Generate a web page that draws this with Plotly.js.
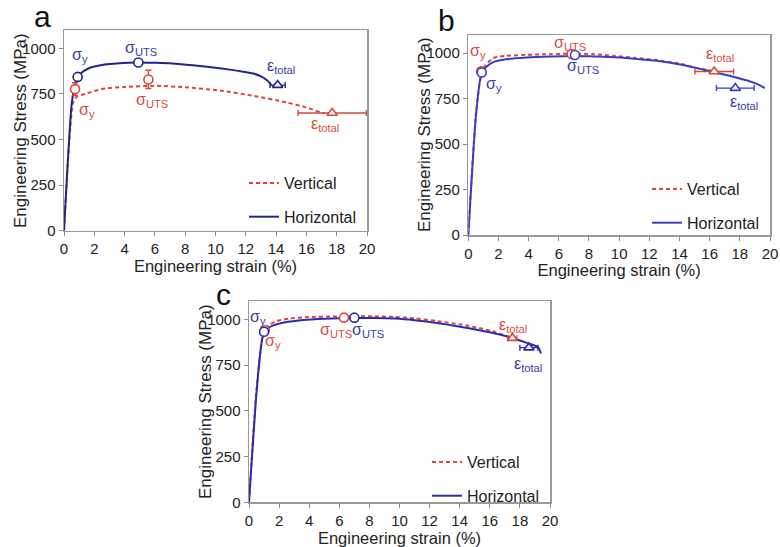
<!DOCTYPE html>
<html>
<head>
<meta charset="utf-8">
<script src="https://cdn.plot.ly/plotly-3.0.1.min.js"></script>
<style>html,body{margin:0;padding:0;background:#fff;}#chart{width:780px;height:547px;}</style>
</head>
<body>
<div id="chart"></div>
<script>
// ---------- Panel a ----------
const aHorizX = [0, 0.5, 0.7, 0.9, 1.1, 1.6, 2.0, 2.7, 3.5, 4.9, 6.0, 7.1, 8.5, 10.4, 11.5, 12.5, 13.0, 13.4, 13.7];
const aHorizY = [0, 690, 790, 843, 862, 889, 900, 911, 917, 922, 920, 917, 907, 889, 876, 862, 846, 825, 798];
const aVertX = [0, 0.6, 0.84, 1.2, 2.0, 2.7, 4.0, 6.0, 8.0, 10.4, 12.5, 14.7, 16.0, 16.9, 17.2];
const aVertY = [0, 700, 734, 745, 765, 780, 788, 794, 786, 767, 739, 703, 675, 650, 643];
// markers: [sigma_y, sigma_UTS, eps_total]
const aHorizMarkX = [0.9, 4.91, 14.1];
const aHorizMarkY = [843, 922, 798];
const aHorizErrX = [0, 0, 0.5];
const aHorizErrY = [0, 0, 0];
const aVertMarkX = [0.73, 5.57, 17.7];
const aVertMarkY = [776, 829, 645];
const aVertErrX = [0, 0, 2.25];
const aVertErrY = [35, 50, 0];

// ---------- Panel b ----------
const bHorizX = [0, 0.5, 0.8, 0.95, 1.2, 1.66, 2.5, 3.87, 5.5, 7.0, 8.3, 9.72, 11.0, 12.5, 14.14, 15.3, 16.35, 17.5, 18.55, 19.2, 19.66];
const bHorizY = [0, 650, 860, 894, 925, 951, 966, 976, 982, 985, 982, 978, 970, 958, 936, 915, 894, 872, 848, 828, 808];
const bVertX = [0, 0.5, 0.85, 1.1, 1.66, 2.5, 3.87, 5.5, 7.0, 8.3, 9.72, 11.0, 12.5, 14.14, 15.0, 15.8, 16.35];
const bVertY = [0, 660, 880, 930, 973, 985, 991, 995, 997, 995, 985, 975, 962, 940, 921, 908, 899];
const bHorizMarkX = [0.89, 7.07, 17.7];
const bHorizMarkY = [894, 990, 808];
const bHorizErrX = [0, 0, 1.25];
const bHorizErrY = [0, 0, 0];
const bVertMarkX = [0.85, 6.85, 16.3];
const bVertMarkY = [900, 995, 899];
const bVertErrX = [0, 0, 1.28];
const bVertErrY = [0, 0, 0];

// ---------- Panel c ----------
const cHorizX = [0, 0.5, 0.85, 1.0, 1.2, 1.62, 2.5, 3.83, 5.5, 7.0, 8.26, 9.7, 11.0, 12.5, 14.13, 15.3, 16.35, 17.5, 18.5, 19.2, 19.4];
const cHorizY = [0, 600, 880, 931, 950, 967, 985, 998, 1005, 1007, 1007, 1004, 995, 980, 958, 940, 922, 898, 870, 849, 813];
const cVertX = [0, 0.5, 0.9, 1.2, 1.8, 2.72, 4.0, 6.0, 8.26, 9.7, 11.0, 12.5, 14.13, 15.3, 16.35, 17.3];
const cVertY = [0, 620, 900, 960, 990, 1004, 1012, 1016, 1016, 1013, 1005, 990, 971, 952, 931, 903];
const cHorizMarkX = [1.0, 7.0, 18.6];
const cHorizMarkY = [932, 1009, 845];
const cHorizErrX = [0, 0, 0.6];
const cHorizErrY = [0, 0, 0];
const cVertMarkX = [1.05, 6.31, 17.5];
const cVertMarkY = [940, 1009, 897];
const cVertErrX = [0, 0, 0.3];
const cVertErrY = [0, 0, 0];

// labels
const labelTexts = ['σ<sub>y</sub>', 'σ<sub>UTS</sub>', 'ε<sub>total</sub>'];
const markerSymbols = ['circle', 'circle', 'triangle-up'];
const aHorizLblX = [1.05, 5.1, 14.3], aHorizLblY = [962, 998, 898];
const aVertLblX = [1.5, 5.8, 17.2], aVertLblY = [661, 716, 580];
const bHorizLblX = [1.7, 7.6, 18.3], bHorizLblY = [826, 927, 728];
const bVertLblX = [0.66, 6.74, 16.7], bVertLblY = [1009, 1056, 991];
const cHorizLblX = [0.62, 7.9, 18.55], cHorizLblY = [1011, 940, 752];
const cVertLblX = [1.6, 5.8, 17.56], cVertLblY = [876, 940, 967];

const xTicks = [0, 2, 4, 6, 8, 10, 12, 14, 16, 18, 20];
const yTicks = [0, 250, 500, 750, 1000];
const panelLetters = ['a', 'b', 'c'];
const legendNames = ['Vertical', 'Horizontal'];
const xTitle = 'Engineering strain (%)';
const yTitle = 'Engineering Stress (MPa)';

const RED = '#d9463c';
const BLUE_A = '#22238c';
const BLUE_B = '#3b3cc4';
const BLUE_C = '#2a2bb0';
const RED_TXT = '#d84a40';
const BLUE_TXT = '#3a3aa8';
const FONT = 'Arial, "Liberation Sans", sans-serif';

const panels = [
  {ax: '', hx: aHorizX, hy: aHorizY, vx: aVertX, vy: aVertY, blue: BLUE_A,
   hmx: aHorizMarkX, hmy: aHorizMarkY, hex: aHorizErrX, hey: aHorizErrY,
   vmx: aVertMarkX, vmy: aVertMarkY, vex: aVertErrX, vey: aVertErrY,
   hlx: aHorizLblX, hly: aHorizLblY, vlx: aVertLblX, vly: aVertLblY, legend: 'legend'},
  {ax: '2', hx: bHorizX, hy: bHorizY, vx: bVertX, vy: bVertY, blue: BLUE_B,
   hmx: bHorizMarkX, hmy: bHorizMarkY, hex: bHorizErrX, hey: bHorizErrY,
   vmx: bVertMarkX, vmy: bVertMarkY, vex: bVertErrX, vey: bVertErrY,
   hlx: bHorizLblX, hly: bHorizLblY, vlx: bVertLblX, vly: bVertLblY, legend: 'legend2'},
  {ax: '3', hx: cHorizX, hy: cHorizY, vx: cVertX, vy: cVertY, blue: BLUE_C,
   hmx: cHorizMarkX, hmy: cHorizMarkY, hex: cHorizErrX, hey: cHorizErrY,
   vmx: cVertMarkX, vmy: cVertMarkY, vex: cVertErrX, vey: cVertErrY,
   hlx: cHorizLblX, hly: cHorizLblY, vlx: cVertLblX, vly: cVertLblY, legend: 'legend3'}
];

function markerTrace(xa, ya, x, y, ex, ey, sym, color) {
  const t = {x: [x], y: [y], xaxis: xa, yaxis: ya, type: 'scatter', mode: 'markers',
    showlegend: false, hoverinfo: 'skip',
    marker: {symbol: sym, size: 9, color: '#ffffff', line: {width: 1.6, color: color}}};
  if (ex > 0) t.error_x = {type: 'data', array: [ex], visible: true, color: color, thickness: 1.4, width: 3};
  if (ey > 0) t.error_y = {type: 'data', array: [ey], visible: true, color: color, thickness: 1.4, width: 3};
  return t;
}

const traces = [];
const markerTraces = [];
const annotations = [];
panels.forEach((p, i) => {
  const xa = 'x' + p.ax, ya = 'y' + p.ax;
  traces.push({x: p.vx, y: p.vy, xaxis: xa, yaxis: ya, type: 'scatter', mode: 'lines',
    name: legendNames[0], legend: p.legend, legendgroup: 'v' + i,
    line: {color: RED, width: 2, dash: '4px,3px', shape: 'spline', smoothing: 0.6}});
  traces.push({x: p.hx, y: p.hy, xaxis: xa, yaxis: ya, type: 'scatter', mode: 'lines',
    name: legendNames[1], legend: p.legend, legendgroup: 'h' + i,
    line: {color: p.blue, width: 2, shape: 'spline', smoothing: 0.6}});
  for (let k = 0; k < 3; k++) {
    markerTraces.push(markerTrace(xa, ya, p.vmx[k], p.vmy[k], p.vex[k], p.vey[k], markerSymbols[k], RED));
    markerTraces.push(markerTrace(xa, ya, p.hmx[k], p.hmy[k], p.hex[k], p.hey[k], markerSymbols[k], p.blue));
    annotations.push({x: p.hlx[k], y: p.hly[k], xref: xa, yref: ya, text: labelTexts[k], showarrow: false,
      font: {family: FONT, size: 16, color: BLUE_TXT}});
    annotations.push({x: p.vlx[k], y: p.vly[k], xref: xa, yref: ya, text: labelTexts[k], showarrow: false,
      font: {family: FONT, size: 16, color: RED_TXT}});
  }
});

const letterPos = [[42, 17], [447, 20], [224, 294]];
letterPos.forEach((pp, i) => {
  annotations.push({x: pp[0] / 780, y: 1 - pp[1] / 547, xref: 'paper', yref: 'paper', text: panelLetters[i],
    showarrow: false, xanchor: 'center', yanchor: 'middle', font: {family: FONT, size: 30, color: '#111'}});
});

// y-axis titles placed as rotated annotations
const yTitlePos = [[20, 131], [425, 134], [205, 402]];
yTitlePos.forEach((pp) => {
  annotations.push({x: pp[0] / 780, y: 1 - pp[1] / 547, xref: 'paper', yref: 'paper', text: yTitle,
    showarrow: false, textangle: -90, xanchor: 'center', yanchor: 'middle',
    font: {family: FONT, size: 17, color: '#222'}});
});

function xaxis(dom, anchor) {
  return {domain: dom, anchor: anchor, range: [0, 20], tickvals: xTicks, ticks: 'outside', ticklen: 4,
    tickcolor: '#888', showline: true, mirror: true, linecolor: '#999', linewidth: 1.5, showgrid: false, zeroline: false,
    tickfont: {family: FONT, size: 15, color: '#222'},
    title: {text: xTitle, font: {family: FONT, size: 16.5, color: '#222'}, standoff: 0}};
}
function yaxis(dom, anchor) {
  return {domain: dom, anchor: anchor, range: [0, 1100], tickvals: yTicks, ticks: 'outside', ticklen: 4,
    tickcolor: '#888', showline: true, mirror: true, linecolor: '#999', linewidth: 1.5, showgrid: false, zeroline: false,
    tickfont: {family: FONT, size: 15, color: '#222'}};
}
function legend(x, y) {
  return {x: x, y: y, xanchor: 'left', yanchor: 'top', bgcolor: 'rgba(0,0,0,0)', borderwidth: 0,
    font: {family: FONT, size: 16, color: '#222'}, tracegroupgap: 10, itemwidth: 30};
}

const layout = {
  width: 780, height: 547,
  margin: {l: 0, r: 0, t: 0, b: 0},
  paper_bgcolor: '#fff', plot_bgcolor: '#fff',
  showlegend: true,
  xaxis: xaxis([64 / 780, 367 / 780], 'y'),
  yaxis: yaxis([1 - 230.7 / 547, 1 - 30 / 547], 'x'),
  xaxis2: xaxis([468.3 / 780, 770 / 780], 'y2'),
  yaxis2: yaxis([1 - 235 / 547, 1 - 35 / 547], 'x2'),
  xaxis3: xaxis([249 / 780, 550 / 780], 'y3'),
  yaxis3: yaxis([1 - 502.3 / 547, 1 - 301 / 547], 'x3'),
  legend: legend(244 / 780, 1 - 166 / 547),
  legend2: legend(647 / 780, 1 - 172 / 547),
  legend3: legend(427 / 780, 1 - 445 / 547),
  annotations: annotations
};

Plotly.newPlot('chart', traces.concat(markerTraces), layout, {displayModeBar: false, staticPlot: true});
</script>
</body>
</html>
